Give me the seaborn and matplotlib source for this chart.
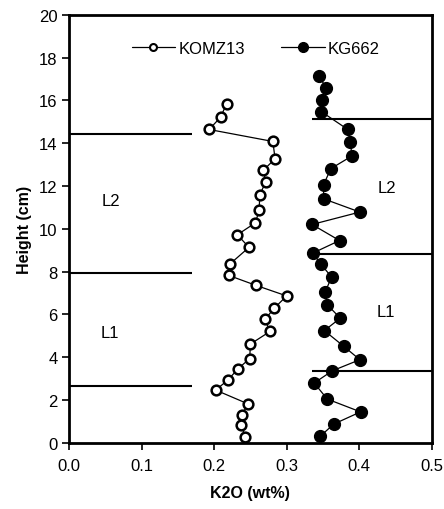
import matplotlib
matplotlib.use("Agg")
import matplotlib.pyplot as plt
import seaborn as sns
import pandas as pd

# KOMZ13 (open circles)
komz13_k2o = [0.217, 0.209, 0.193, 0.281, 0.284, 0.268, 0.271, 0.263, 0.262, 0.257,
              0.232, 0.248, 0.222, 0.220, 0.258, 0.300, 0.283, 0.270, 0.277, 0.250,
              0.249, 0.233, 0.219, 0.202, 0.247, 0.238, 0.237, 0.243]
komz13_height = [15.84, 15.22, 14.64, 14.08, 13.27, 12.74, 12.18, 11.59, 10.87, 10.28,
                 9.72, 9.13, 8.36, 7.82, 7.35, 6.86, 6.29, 5.76, 5.20, 4.61,
                 3.93, 3.46, 2.93, 2.46, 1.81, 1.31, 0.84, 0.28]

# KG662 (filled circles)
kg662_k2o = [0.345, 0.354, 0.349, 0.348, 0.384, 0.388, 0.390, 0.361, 0.351, 0.351,
             0.401, 0.335, 0.373, 0.336, 0.347, 0.362, 0.353, 0.356, 0.374, 0.352,
             0.379, 0.401, 0.363, 0.338, 0.356, 0.402, 0.365, 0.346]
kg662_height = [17.15, 16.59, 16.01, 15.47, 14.65, 14.06, 13.40, 12.81, 12.06, 11.40,
                10.78, 10.20, 9.45, 8.86, 8.36, 7.74, 7.03, 6.45, 5.82, 5.24,
                4.50, 3.88, 3.36, 2.79, 2.04, 1.44, 0.87, 0.29]

# Layer boundaries
left_bounds = [14.42, 7.92, 2.66]
left_bound_x = [0.0, 0.169]
right_bounds = [15.15, 8.83, 3.36]
right_bound_x = [0.335, 0.5]

# Layer labels
layer_labels = ["L2", "L1", "L2", "L1"]
layer_label_x = [0.058, 0.056, 0.439, 0.437]
layer_label_y = [11.33, 5.16, 11.92, 6.13]

x_ticks = [0.0, 0.1, 0.2, 0.3, 0.4, 0.5]
y_ticks = list(range(0, 21, 2))

sns.set_style("white")
plt.rcParams['font.family'] = ['Liberation Sans', 'DejaVu Sans']
plt.rcParams['text.color'] = 'black'
plt.rcParams['axes.labelcolor'] = 'black'
plt.rcParams['xtick.color'] = 'black'
plt.rcParams['ytick.color'] = 'black'

fig = plt.figure(figsize=(4.44, 5.10), dpi=100)
ax = fig.add_axes([0.156, 0.130, 0.816, 0.839])

df1 = pd.DataFrame({"k2o": komz13_k2o, "h": komz13_height})
df2 = pd.DataFrame({"k2o": kg662_k2o, "h": kg662_height})

sns.lineplot(data=df1, x="k2o", y="h", sort=False, estimator=None, ax=ax,
             color="black", linewidth=0.9, marker="o", markersize=7,
             markerfacecolor="white", markeredgecolor="black", markeredgewidth=1.8,
             label="KOMZ13")
sns.lineplot(data=df2, x="k2o", y="h", sort=False, estimator=None, ax=ax,
             color="black", linewidth=0.9, marker="o", markersize=8.5,
             markerfacecolor="black", markeredgecolor="black", markeredgewidth=1,
             label="KG662")

ax.hlines(left_bounds, left_bound_x[0], left_bound_x[1], colors="black", linewidth=1.5)
ax.hlines(right_bounds, right_bound_x[0], right_bound_x[1], colors="black", linewidth=1.5)

for t, x, y in zip(layer_labels, layer_label_x, layer_label_y):
    ax.text(x, y, t, fontsize=12, ha="center", va="center", color="black")

ax.set_xlim(0, 0.5)
ax.set_ylim(0, 20)
ax.set_xticks(x_ticks)
ax.set_xticklabels([f"{v:.1f}" for v in x_ticks])
ax.set_yticks(y_ticks)
ax.tick_params(axis="both", which="both", direction="out", length=5, width=1.2,
               labelsize=12, left=True, bottom=True, top=False, right=False,
               colors="black", labelcolor="black")
ax.tick_params(axis="x", pad=6)
for s in ax.spines.values():
    s.set_visible(True)
    s.set_color("black")
    s.set_linewidth(2)

ax.set_xlabel("K2O (wt%)", fontsize=11.5, fontweight="bold", labelpad=9, color="black")
ax.set_ylabel("Height (cm)", fontsize=11.5, fontweight="bold", labelpad=5, color="black")

leg = ax.legend(loc="upper center", bbox_to_anchor=(0.515, 0.975), ncol=2, frameon=False,
                fontsize=12, handlelength=2.6, columnspacing=2.2, handletextpad=0.2,
                labelcolor="black")
hs = leg.legend_handles
hs[0].set_markersize(5)
hs[0].set_markeredgewidth(1.5)
hs[1].set_markersize(7)
for h in hs:
    h.set_linewidth(0.9)

fig.savefig("out.png", dpi=100)
